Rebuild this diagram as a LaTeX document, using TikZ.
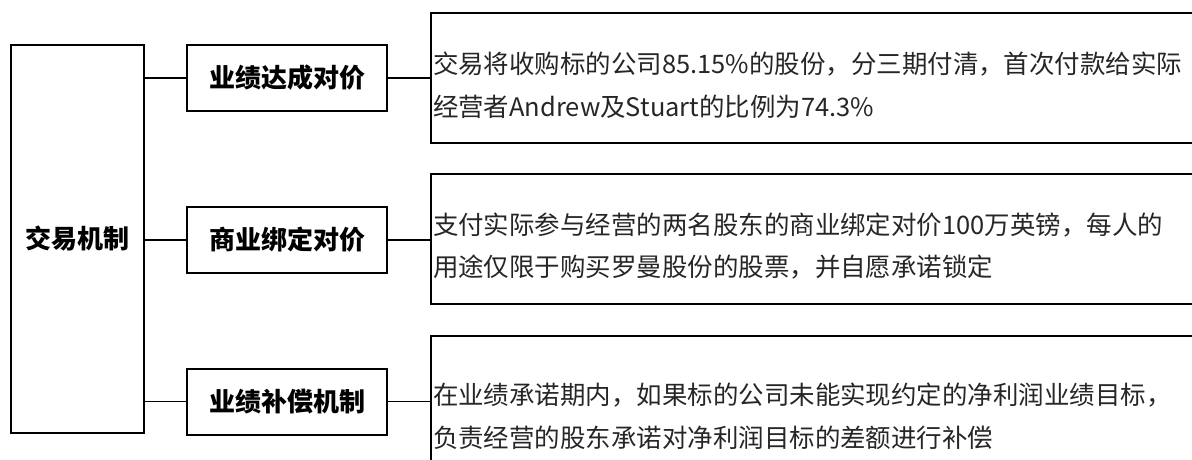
\documentclass[tikz,border=0pt]{standalone}
\usepackage{fontspec}
\newfontfamily\cjk{Noto Sans CJK SC}
\begin{document}
\begin{tikzpicture}[x=0.75pt,y=-0.75pt,
  box/.style={draw,line width=1.5pt,rectangle,inner sep=0pt},
  leftbox/.style={box,minimum width=99.75pt,minimum height=291pt,font=\cjk\bfseries\fontsize{19.5}{24}\selectfont},
  midbox/.style={box,minimum width=150pt,minimum height=49.5pt,font=\cjk\bfseries\fontsize{19.5}{24}\selectfont},
  rightbox/.style={box,anchor=west,text width=574pt,inner xsep=1.5pt,align=left,font=\cjk\fontsize{19.1}{32}\selectfont,text=black!85},
  link/.style={line width=0.9pt}]
\useasboundingbox (0,0) rectangle (1192,460);
\node[leftbox] (L) at (77.5,239) {交易机制};
\node[midbox] (m1) at (287,78) {业绩达成对价};
\node[midbox] (m2) at (287,240) {商业绑定对价};
\node[midbox] (m3) at (287,401.5) {业绩补偿机制};
\node[rightbox,minimum height=97.5pt] (r1) at (430,78) {\rule{0pt}{27pt}交易将收购标的公司85.15\%的股份，分三期付清，首次付款给实际\\经营者Andrew及Stuart的比例为74.3\%};
\node[rightbox,minimum height=97.5pt] (r2) at (430,239) {\rule{0pt}{27pt}支付实际参与经营的两名股东的商业绑定对价100万英镑，每人的\\用途仅限于购买罗曼股份的股票，并自愿承诺锁定};
\node[rightbox,minimum height=109.5pt] (r3) at (430,409) {\rule{0pt}{27pt}在业绩承诺期内，如果标的公司未能实现约定的净利润业绩目标，\\负责经营的股东承诺对净利润目标的差额进行补偿};
\draw[link] (L.east |- m1.west) -- (m1.west);
\draw[link] (L.east |- m2.west) -- (m2.west);
\draw[link] (L.east |- m3.west) -- (m3.west);
\draw[link] (m1.east) -- (m1.east -| r1.west);
\draw[link] (m2.east) -- (m2.east -| r2.west);
\draw[link] (m3.east) -- (m3.east -| r3.west);
\end{tikzpicture}
\end{document}
